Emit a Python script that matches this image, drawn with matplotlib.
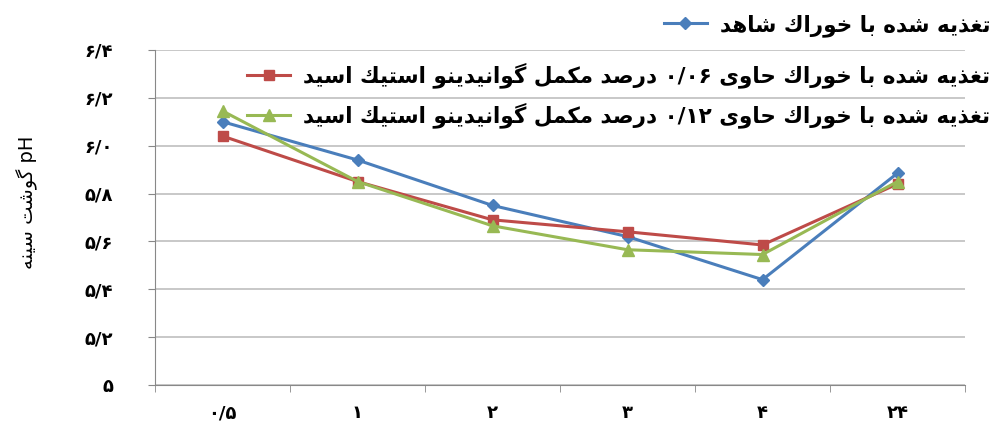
import matplotlib
matplotlib.use('Agg')
import matplotlib.pyplot as plt
from matplotlib.ticker import FixedLocator

# Persian letters -> presentation forms (isolated, final, initial, medial)
# right-joining letters only have two forms
FORMS = {
    'ا': ('\uFE8D', '\uFE8E'),
    'ب': ('\uFE8F', '\uFE90', '\uFE91', '\uFE92'),
    'ت': ('\uFE95', '\uFE96', '\uFE97', '\uFE98'),
    'ح': ('\uFEA1', '\uFEA2', '\uFEA3', '\uFEA4'),
    'خ': ('\uFEA5', '\uFEA6', '\uFEA7', '\uFEA8'),
    'د': ('\uFEA9', '\uFEAA'),
    'ذ': ('\uFEAB', '\uFEAC'),
    'ر': ('\uFEAD', '\uFEAE'),
    'س': ('\uFEB1', '\uFEB2', '\uFEB3', '\uFEB4'),
    'ش': ('\uFEB5', '\uFEB6', '\uFEB7', '\uFEB8'),
    'ص': ('\uFEB9', '\uFEBA', '\uFEBB', '\uFEBC'),
    'غ': ('\uFECD', '\uFECE', '\uFECF', '\uFED0'),
    'ل': ('\uFEDD', '\uFEDE', '\uFEDF', '\uFEE0'),
    'م': ('\uFEE1', '\uFEE2', '\uFEE3', '\uFEE4'),
    'ن': ('\uFEE5', '\uFEE6', '\uFEE7', '\uFEE8'),
    'ه': ('\uFEE9', '\uFEEA', '\uFEEB', '\uFEEC'),
    'و': ('\uFEED', '\uFEEE'),
    'ی': ('\uFBFC', '\uFBFD', '\uFBFE', '\uFBFF'),
    'ک': ('\uFED9', '\uFEDA', '\uFEDB', '\uFEDC'),
    'گ': ('\uFB92', '\uFB93', '\uFB94', '\uFB95'),
}


def shape_word(w):
    out = []
    for i, ch in enumerate(w):
        if ch not in FORMS:
            out.append(ch)
            continue
        prev = w[i - 1] if i > 0 else None
        nxt = w[i + 1] if i + 1 < len(w) else None
        jp = prev in FORMS and len(FORMS[prev]) == 4
        jn = len(FORMS[ch]) == 4 and nxt in FORMS
        f = FORMS[ch]
        if jp and jn:
            out.append(f[3])
        elif jp:
            out.append(f[1])
        elif jn:
            out.append(f[2])
        else:
            out.append(f[0])
    return ''.join(out)


def fa(text):
    # visual order: words right to left, letters reversed, numbers kept LTR
    words = []
    for w in text.split(' '):
        if any(c in FORMS for c in w):
            words.append(shape_word(w)[::-1])
        else:
            words.append(w)
    return ' '.join(words[::-1])


# data
times = ['۰/۵', '۱', '۲', '۳', '۴', '۲۴']
control = [6.10, 5.94, 5.75, 5.62, 5.44, 5.885]
gaa_006 = [6.04, 5.85, 5.69, 5.64, 5.585, 5.84]
gaa_012 = [6.145, 5.85, 5.665, 5.565, 5.545, 5.85]
y_ticks = [5.0, 5.2, 5.4, 5.6, 5.8, 6.0, 6.2, 6.4]
y_labels = ['۵', '۵/۲', '۵/۴', '۵/۶', '۵/۸', '۶/۰', '۶/۲', '۶/۴']

names = ['تغذیه شده با خوراک شاهد',
         'تغذیه شده با خوراک حاوی ۰/۰۶ درصد مکمل گوانیدینو استیک اسید',
         'تغذیه شده با خوراک حاوی ۰/۱۲ درصد مکمل گوانیدینو استیک اسید']
ylab = 'pH گوشت سینه'

plt.rcParams['font.family'] = ['DejaVu Sans']

fig = plt.figure(figsize=(10, 4.34), dpi=100)
ax = fig.add_axes([0.155, 0.113, 0.81, 0.772])

x = list(range(len(times)))
l1, = ax.plot(x, control, color='#4a7ebb', lw=2.2, marker='D', ms=6.5, zorder=3)
l2, = ax.plot(x, gaa_006, color='#be4b48', lw=2.2, marker='s', ms=7.5, zorder=3)
l3, = ax.plot(x, gaa_012, color='#98b954', lw=2.2, marker='^', ms=8.5, zorder=3)

ax.set_xlim(-0.5, len(times) - 0.5)
ax.set_ylim(5.0, 6.4)
ax.set_yticks(y_ticks)
ax.set_yticklabels(y_labels, fontweight='bold', fontsize=13)
ax.set_xticks(x)
ax.set_xticklabels(times, fontweight='bold', fontsize=13)
ax.xaxis.set_minor_locator(FixedLocator([i - 0.5 for i in range(len(times) + 1)]))
ax.tick_params(axis='x', which='major', length=0, pad=14)
ax.tick_params(axis='x', which='minor', length=5, color='#888888')
ax.tick_params(axis='y', length=5, color='#888888', pad=25)
ax.grid(axis='y', color='#bfbfbf', lw=1.2)
ax.set_axisbelow(True)
for s in ['top', 'right']:
    ax.spines[s].set_visible(False)
for s in ['left', 'bottom']:
    ax.spines[s].set_color('#888888')

ax.set_ylabel(fa(ylab), fontsize=14)
ax.yaxis.set_label_coords(-0.145, 0.545)

# legend entries, one per series (entries are not evenly spaced in the original)
for h, name, yy in zip([l1, l2, l3], names, [0.942, 0.827, 0.735]):
    lg = fig.legend([h], [fa(name)], loc='center right', bbox_to_anchor=(1.0, yy),
                    frameon=False, handlelength=2.0, handletextpad=0.6,
                    borderaxespad=0.05, prop={'size': 15.5, 'weight': 'bold'})

fig.savefig('out.png', dpi=100)
